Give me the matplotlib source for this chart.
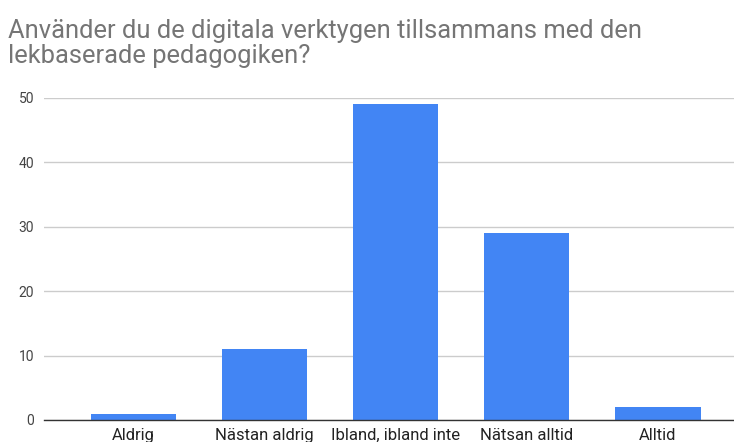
import matplotlib
matplotlib.use("Agg")
import matplotlib.pyplot as plt

# Survey answers: "Använder du de digitala verktygen tillsammans med den lekbaserade pedagogiken?"
title_lines = ["Använder du de digitala verktygen tillsammans med den",
               "lekbaserade pedagogiken?"]
categories = ["Aldrig", "Nästan aldrig", "Ibland, ibland inte", "Nätsan alltid", "Alltid"]
counts = [1, 11, 49, 29, 2]
y_ticks = [0, 10, 20, 30, 40, 50]

plt.rcParams["font.family"] = ["Roboto", "DejaVu Sans"]

fig = plt.figure(figsize=(7.34, 4.42), dpi=100)
ax = fig.add_axes([0.0599, 0.0498, 0.9401, 0.7292])

x = list(range(len(categories)))
ax.bar(x, counts, width=0.65, color="#4285F4", zorder=3)

ax.set_xlim(-0.68, 4.58)
ax.set_ylim(0, 50)
ax.set_yticks(y_ticks)
ax.set_xticks(x)
# the reference crops these labels at the bottom edge as well
ax.set_xticklabels(categories, fontsize=12, color="#222222")
ax.tick_params(axis="y", labelsize=10, labelcolor="#444444", length=0, pad=7)
ax.tick_params(axis="x", length=0, pad=6)

ax.grid(axis="y", color="#cccccc", linewidth=1, zorder=0)
for side in ["top", "right", "left"]:
    ax.spines[side].set_visible(False)
ax.spines["bottom"].set_color("#333333")
ax.spines["bottom"].set_linewidth(1)
ax.spines["bottom"].set_zorder(4)

# title: two lines, baselines
for line, base_px in zip(title_lines, [38, 63]):
    fig.text(8 / 734, 1 - base_px / 442, line, ha="left", va="baseline",
             fontsize=18.4, color="#757575")

fig.savefig("out.png", dpi=100)
